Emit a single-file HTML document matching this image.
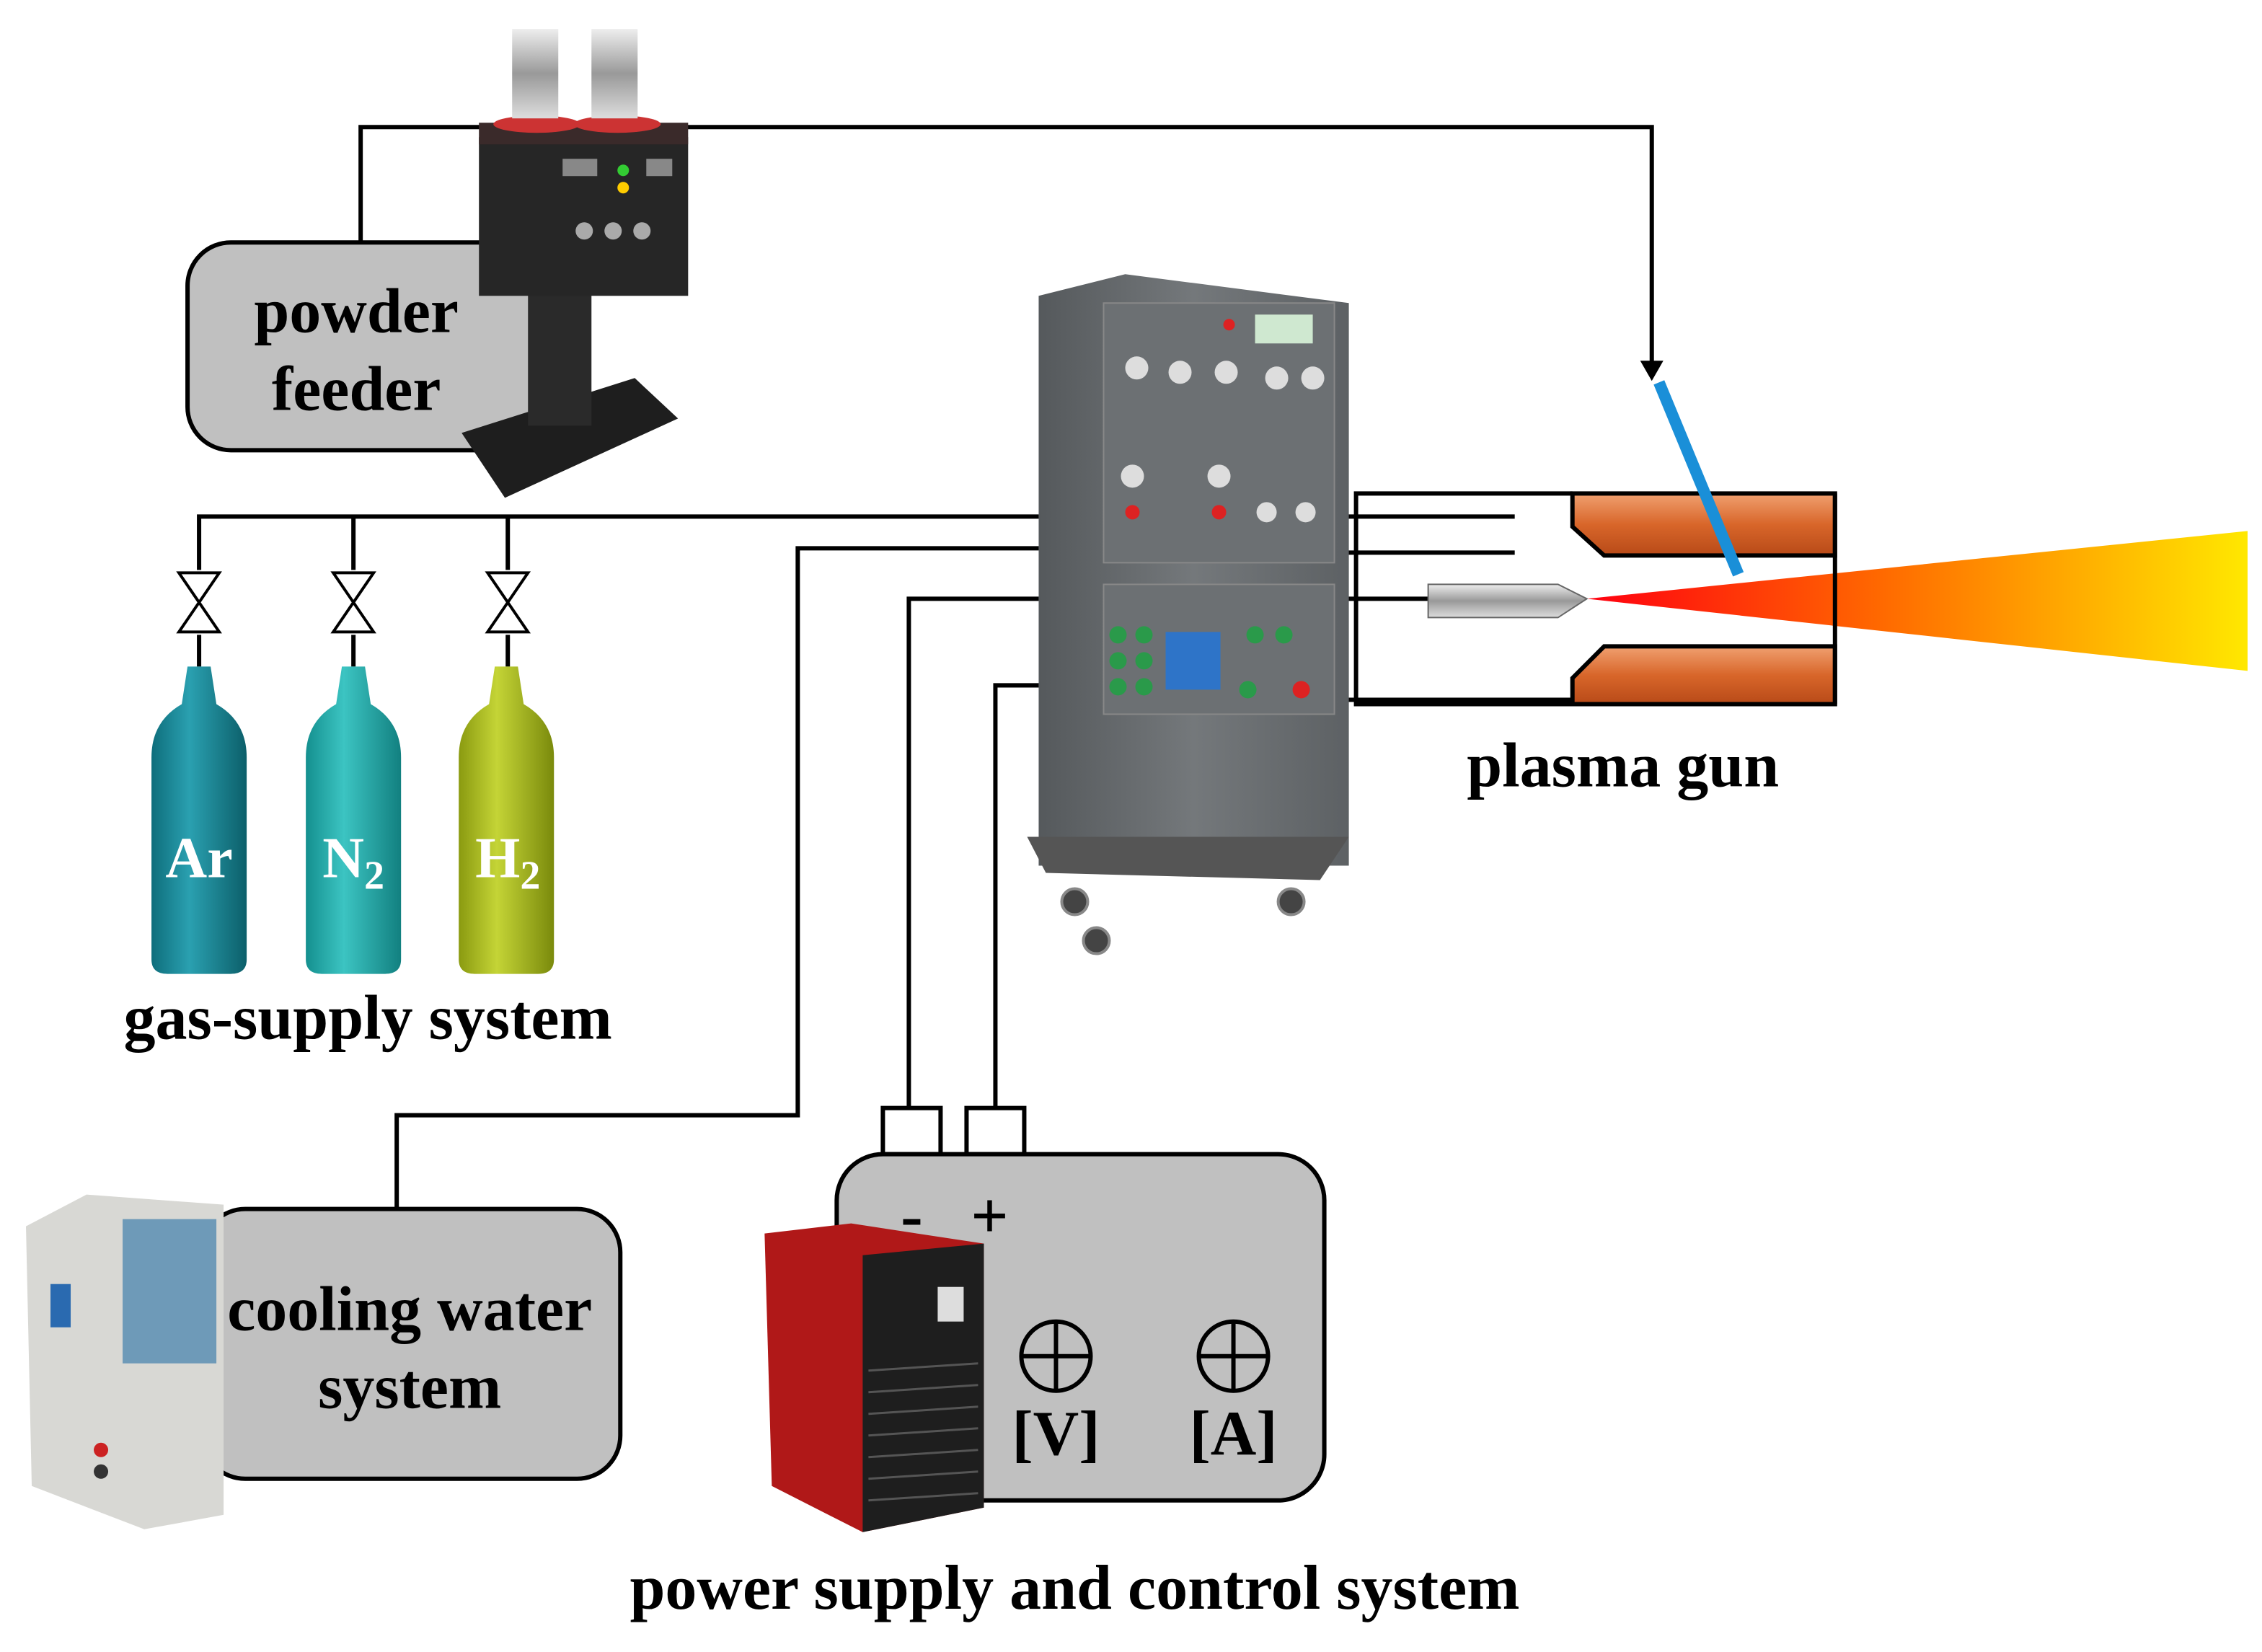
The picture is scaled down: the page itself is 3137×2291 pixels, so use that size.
<!DOCTYPE html>
<html><head><meta charset="utf-8"><style>
html,body{margin:0;padding:0;background:#fff;width:3137px;height:2291px;overflow:hidden}
svg{display:block}
text{font-family:"Liberation Serif",serif;font-weight:bold}
</style></head><body>
<svg width="3137" height="2291" viewBox="0 0 1568 1145" xmlns="http://www.w3.org/2000/svg">
<defs>
<linearGradient id="fl" x1="0" x2="1" y1="0" y2="0"><stop offset="0" stop-color="#ff0010"/><stop offset="0.45" stop-color="#ff6a00"/><stop offset="1" stop-color="#ffe800"/></linearGradient>
<linearGradient id="cab" x1="0" x2="1"><stop offset="0" stop-color="#55595c"/><stop offset="0.5" stop-color="#74787b"/><stop offset="1" stop-color="#5d6164"/></linearGradient>
<linearGradient id="sil" x1="0" x2="0" y1="0" y2="1"><stop offset="0" stop-color="#eee"/><stop offset="0.5" stop-color="#999"/><stop offset="1" stop-color="#ddd"/></linearGradient>
<linearGradient id="ar" x1="0" x2="1"><stop offset="0" stop-color="#0e6e7c"/><stop offset="0.4" stop-color="#2aa0b0"/><stop offset="1" stop-color="#0c5f6a"/></linearGradient>
<linearGradient id="n2" x1="0" x2="1"><stop offset="0" stop-color="#14908f"/><stop offset="0.4" stop-color="#3cc4c2"/><stop offset="1" stop-color="#128080"/></linearGradient>
<linearGradient id="h2" x1="0" x2="1"><stop offset="0" stop-color="#8a9a10"/><stop offset="0.4" stop-color="#c4d436"/><stop offset="1" stop-color="#7a8a0c"/></linearGradient>
<linearGradient id="cu" x1="0" x2="0" y1="0" y2="1"><stop offset="0" stop-color="#f0a070"/><stop offset="0.5" stop-color="#d8662a"/><stop offset="1" stop-color="#b84a18"/></linearGradient>
</defs>
<g fill="none" stroke="#000" stroke-width="3">
<polyline points="250,168 250,88 1145,88 1145,252"/>
<polyline points="138,395 138,358 720,358"/>
<line x1="245" y1="358" x2="245" y2="395"/><line x1="352" y1="358" x2="352" y2="395"/>
<line x1="138" y1="440" x2="138" y2="462"/><line x1="245" y1="440" x2="245" y2="462"/><line x1="352" y1="440" x2="352" y2="462"/>
<polyline points="720,380 553,380 553,773 275,773 275,838"/>
<polyline points="720,415 630,415 630,768"/>
<polyline points="720,475 690,475 690,768"/>
<line x1="930" y1="358" x2="1050" y2="358"/>
<line x1="930" y1="383" x2="1050" y2="383"/>
<line x1="930" y1="415" x2="990" y2="415"/>
<line x1="930" y1="485" x2="1090" y2="485"/>
<polyline points="1090,342 940,342 940,488 1090,488"/>
</g>
<polygon points="1137,250 1153,250 1145,264" fill="#000"/>
<g fill="#fff" stroke="#000" stroke-width="2">
<path d="M124,397 L152,397 L124,438 L152,438 Z"/><path d="M231,397 L259,397 L231,438 L259,438 Z"/><path d="M338,397 L366,397 L338,438 L366,438 Z"/>
</g>
<rect x="130" y="168" width="245" height="144" rx="30" fill="#c0c0c0" stroke="#000" stroke-width="3"/>
<text x="247" y="230" font-size="44" text-anchor="middle">powder</text>
<text x="247" y="284" font-size="44" text-anchor="middle">feeder</text>
<polygon points="320,300 440,262 470,290 350,345" fill="#1e1e1e"/>
<rect x="366" y="195" width="44" height="100" fill="#2a2a2a"/>
<rect x="332" y="95" width="145" height="110" fill="#262626"/>
<rect x="332" y="85" width="145" height="15" fill="#3a2a2a"/>
<ellipse cx="372" cy="86" rx="30" ry="6" fill="#c33"/><ellipse cx="428" cy="86" rx="30" ry="6" fill="#c33"/>
<rect x="355" y="20" width="32" height="62" fill="url(#sil)"/><rect x="410" y="20" width="32" height="62" fill="url(#sil)"/>
<rect x="390" y="110" width="24" height="12" fill="#888"/><rect x="448" y="110" width="18" height="12" fill="#888"/>
<circle cx="432" cy="118" r="4" fill="#3c3"/><circle cx="432" cy="130" r="4" fill="#fc0"/>
<g fill="#aaa"><circle cx="405" cy="160" r="6"/><circle cx="425" cy="160" r="6"/><circle cx="445" cy="160" r="6"/></g>
<path d="M105,665 L105,525 Q105,500 126,488 L130,462 L146,462 L150,488 Q171,500 171,525 L171,665 Q171,675 160,675 L116,675 Q105,675 105,665 Z" fill="url(#ar)"/>
<path d="M212,665 L212,525 Q212,500 233,488 L237,462 L253,462 L257,488 Q278,500 278,525 L278,665 Q278,675 267,675 L223,675 Q212,675 212,665 Z" fill="url(#n2)"/>
<path d="M318,665 L318,525 Q318,500 339,488 L343,462 L359,462 L363,488 Q384,500 384,525 L384,665 Q384,675 373,675 L329,675 Q318,675 318,665 Z" fill="url(#h2)"/>
<g fill="#fff" font-size="40" text-anchor="middle">
<text x="138" y="608">Ar</text><text x="245" y="608">N<tspan font-size="28" dy="8">2</tspan></text><text x="352" y="608">H<tspan font-size="28" dy="8">2</tspan></text>
</g>
<text x="255" y="720" font-size="44" text-anchor="middle">gas-supply system</text>
<polygon points="720,205 780,190 935,210 935,600 720,600" fill="url(#cab)"/>
<polygon points="712,580 935,580 915,610 725,605" fill="#555"/>
<rect x="765" y="210" width="160" height="180" fill="#6c7073" stroke="#888"/>
<rect x="765" y="405" width="160" height="90" fill="#6c7073" stroke="#888"/>
<rect x="870" y="218" width="40" height="20" fill="#cfe8d0"/>
<rect x="808" y="438" width="38" height="40" fill="#2e74c8"/>
<g fill="#ddd"><circle cx="788" cy="255" r="8"/><circle cx="818" cy="258" r="8"/><circle cx="850" cy="258" r="8"/><circle cx="885" cy="262" r="8"/><circle cx="910" cy="262" r="8"/><circle cx="785" cy="330" r="8"/><circle cx="845" cy="330" r="8"/><circle cx="878" cy="355" r="7"/><circle cx="905" cy="355" r="7"/></g>
<g fill="#2a9a4a"><circle cx="775" cy="440" r="6"/><circle cx="775" cy="458" r="6"/><circle cx="775" cy="476" r="6"/><circle cx="793" cy="440" r="6"/><circle cx="793" cy="458" r="6"/><circle cx="793" cy="476" r="6"/><circle cx="870" cy="440" r="6"/><circle cx="890" cy="440" r="6"/><circle cx="865" cy="478" r="6"/></g>
<g fill="#d22"><circle cx="852" cy="225" r="4"/><circle cx="785" cy="355" r="5"/><circle cx="845" cy="355" r="5"/><circle cx="902" cy="478" r="6"/></g>
<g fill="#444" stroke="#888" stroke-width="2"><circle cx="745" cy="625" r="9"/><circle cx="760" cy="652" r="9"/><circle cx="895" cy="625" r="9"/></g>
<polygon points="1100,415 1558,368 1558,465" fill="url(#fl)"/>
<polygon points="1090,342 1272,342 1272,385 1112,385 1090,365" fill="url(#cu)" stroke="#000" stroke-width="3"/>
<polygon points="1090,470 1112,448 1272,448 1272,488 1090,488" fill="url(#cu)" stroke="#000" stroke-width="3"/>
<line x1="1272" y1="342" x2="1272" y2="488" stroke="#000" stroke-width="3"/>
<polygon points="990,405 1080,405 1100,415 1080,428 990,428" fill="url(#sil)" stroke="#666"/>
<line x1="1150" y1="265" x2="1205" y2="398" stroke="#1a8fd8" stroke-width="8"/>
<text x="1125" y="545" font-size="44" text-anchor="middle">plasma gun</text>
<rect x="140" y="838" width="290" height="187" rx="30" fill="#c0c0c0" stroke="#000" stroke-width="3"/>
<polygon points="18,850 60,828 155,835 155,1050 100,1060 22,1030" fill="#d8d8d4"/>
<rect x="85" y="845" width="65" height="100" fill="#6e9ab8"/>
<rect x="35" y="890" width="14" height="30" fill="#2a6ab0"/>
<circle cx="70" cy="1005" r="5" fill="#c22"/><circle cx="70" cy="1020" r="5" fill="#333"/>
<text x="284" y="922" font-size="44" text-anchor="middle">cooling water</text>
<text x="284" y="976" font-size="44" text-anchor="middle">system</text>
<rect x="612" y="768" width="40" height="32" fill="#fff" stroke="#000" stroke-width="3"/>
<rect x="670" y="768" width="40" height="32" fill="#fff" stroke="#000" stroke-width="3"/>
<rect x="580" y="800" width="338" height="240" rx="32" fill="#c0c0c0" stroke="#000" stroke-width="3"/>
<text x="632" y="858" font-size="46" text-anchor="middle">-</text>
<text x="686" y="858" font-size="46" text-anchor="middle">+</text>
<g fill="none" stroke="#000" stroke-width="3">
<circle cx="732" cy="940" r="24"/><line x1="708" y1="940" x2="756" y2="940"/><line x1="732" y1="916" x2="732" y2="964"/>
<circle cx="855" cy="940" r="24"/><line x1="831" y1="940" x2="879" y2="940"/><line x1="855" y1="916" x2="855" y2="964"/>
</g>
<text x="732" y="1008" font-size="44" text-anchor="middle">[V]</text>
<text x="855" y="1008" font-size="44" text-anchor="middle">[A]</text>
<polygon points="530,855 590,848 682,862 682,1045 598,1062 535,1030" fill="#b01818"/>
<polygon points="598,870 682,862 682,1045 598,1062" fill="#1e1e1e"/>
<g stroke="#555" stroke-width="1.5"><line x1="602" y1="950" x2="678" y2="945"/><line x1="602" y1="965" x2="678" y2="960"/><line x1="602" y1="980" x2="678" y2="975"/><line x1="602" y1="995" x2="678" y2="990"/><line x1="602" y1="1010" x2="678" y2="1005"/><line x1="602" y1="1025" x2="678" y2="1020"/><line x1="602" y1="1040" x2="678" y2="1035"/></g>
<rect x="650" y="892" width="18" height="24" fill="#ddd"/>
<text x="745" y="1115" font-size="44" text-anchor="middle">power supply and control system</text>
</svg>
</body></html>
